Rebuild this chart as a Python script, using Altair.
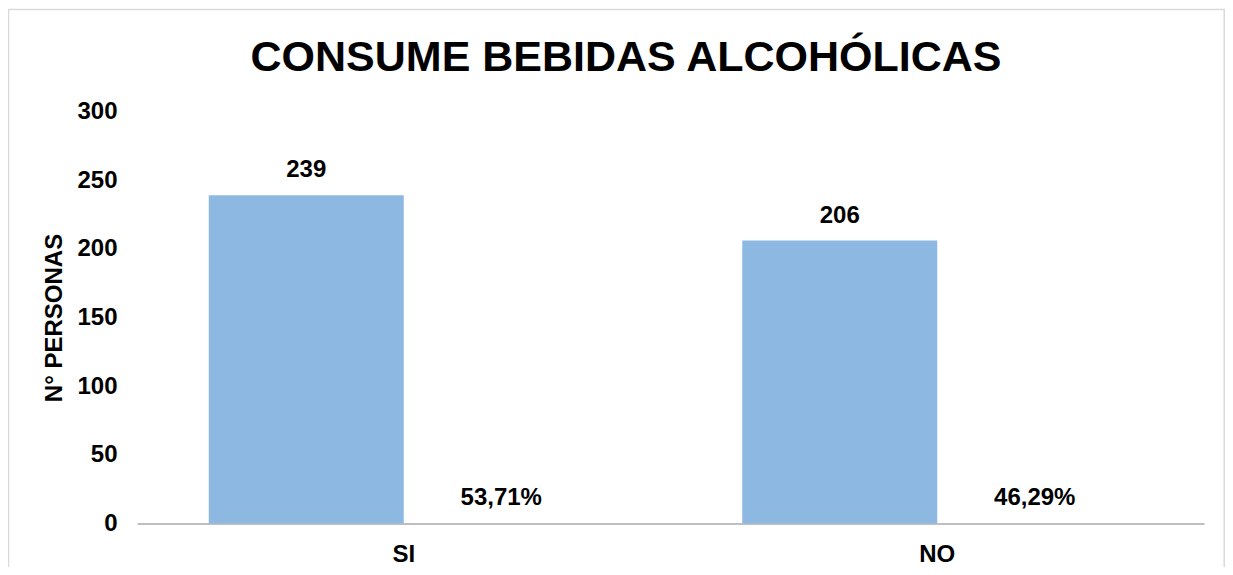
import altair as alt
import pandas as pd

# --- data ---
categorias = ["SI", "NO"]
personas = [239, 206]
porcentajes = [0.5371, 0.4629]
series = ["N° personas", "Porcentaje"]

FONT = "Liberation Sans"
AZUL = "#8DB8E2"

rows = []
for c, n, p in zip(categorias, personas, porcentajes):
    rows.append({"categoria": c, "serie": series[0], "valor": n, "etiqueta": str(n)})
    rows.append({"categoria": c, "serie": series[1], "valor": p,
                 "etiqueta": f"{p * 100:.2f}".replace(".", ",") + "%"})
df = pd.DataFrame(rows)

base = alt.Chart(df).encode(
    x=alt.X(
        "categoria:N",
        sort=categorias,
        scale=alt.Scale(paddingInner=0.269, paddingOuter=0.1345),
        axis=alt.Axis(
            title=None, labelAngle=0, labelFont=FONT, labelFontSize=24,
            labelFontWeight="bold", labelColor="black", domainColor="#BFBFBF",
            domainWidth=2, ticks=False, labelPadding=19,
        ),
    ),
    xOffset=alt.XOffset(
        "serie:N", sort=series,
        scale=alt.Scale(domain=series, paddingInner=0, paddingOuter=0),
    ),
    y=alt.Y(
        "valor:Q",
        scale=alt.Scale(domain=[0, 300]),
        axis=alt.Axis(
            values=[0, 50, 100, 150, 200, 250, 300], grid=False, domain=False,
            ticks=False, labelPadding=20, labelFont=FONT, labelFontSize=24,
            labelFontWeight="bold", labelColor="black",
            title="N° PERSONAS", titleFont=FONT, titleFontSize=24,
            titleFontWeight="bold", titleColor="black", titleX=-83, titleY=206,
            titleBaseline="middle", titleAlign="center", titleAngle=270,
        ),
    ),
)

bars = base.transform_filter(alt.datum.serie == series[0]).mark_bar(color=AZUL)
labels = base.mark_text(
    font=FONT, fontSize=24, fontWeight="bold", color="black",
    baseline="middle", dy=-25,
).encode(text="etiqueta:N")

border = alt.Chart(pd.DataFrame({"a": [0]})).mark_rect(
    filled=False, stroke="#D9D9D9", strokeWidth=1.5
).encode(x=alt.value(-128.5), x2=alt.value(1087.2), y=alt.value(-102), y2=alt.value(480))

chart = alt.layer(border, bars, labels).properties(
    width=1067,
    height=412,
    padding={"left": 129, "top": 103.5, "right": 21, "bottom": 43},
    autosize=alt.AutoSizeParams(type="none"),
    background="white",
    title=alt.TitleParams(
        "CONSUME BEBIDAS ALCOHÓLICAS", font=FONT, fontSize=43, fontWeight="bold",
        color="black", anchor="middle", dx=-44.5, offset=0, dy=105, baseline="alphabetic",
    ),
).configure_view(stroke=None)

chart.save("out.html", embed_options={"renderer": "svg", "actions": False})
